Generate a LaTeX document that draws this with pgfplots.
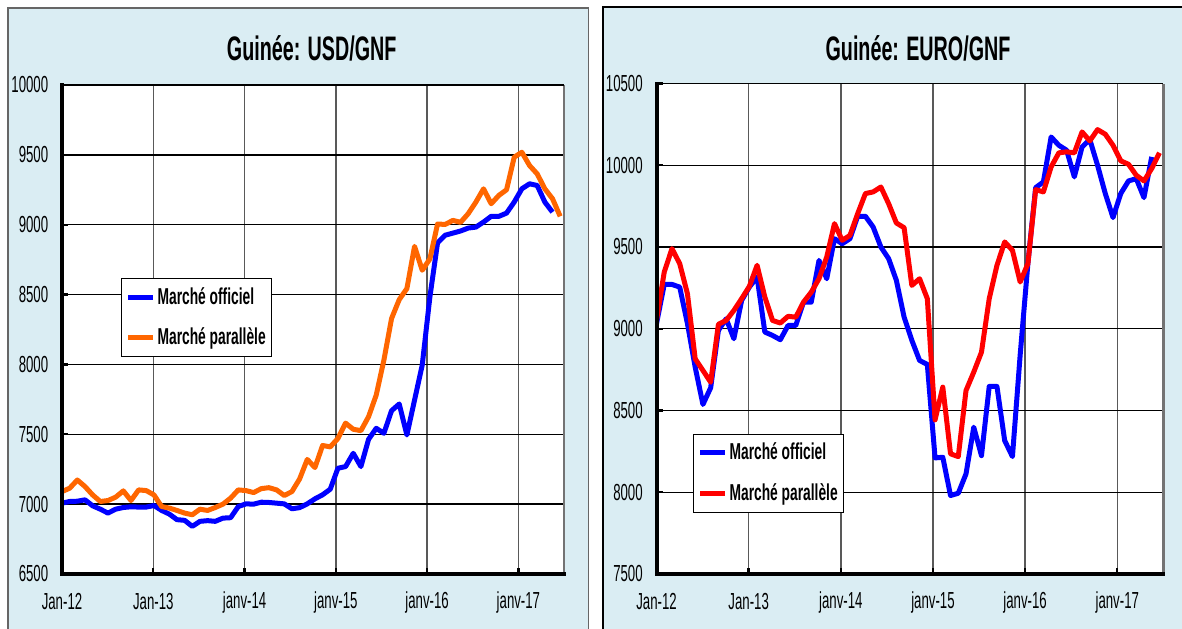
\documentclass[border=0pt]{standalone}
\usepackage{fontspec}
\setmainfont{Liberation Sans}[FakeStretch=0.57]
\newfontfamily\titlefont{Liberation Sans}[FakeStretch=0.58]
\newfontfamily\legfont{Liberation Sans}[FakeStretch=0.6]
\usepackage{pgfplots}
\usepackage{pgfplotstable}
\pgfplotsset{compat=1.18}
\definecolor{bgblue}{RGB}{218,237,243}
\definecolor{offblue}{RGB}{0,0,255}
\definecolor{parorange}{RGB}{255,102,0}
\definecolor{parred}{RGB}{255,0,0}

% USD/GNF, official market
\pgfplotstableread{
k v
0 7007
1 7019
2 7021
3 7031
4 6988
5 6964
6 6936
7 6964
8 6976
9 6981
10 6979
11 6979
12 6990
13 6955
14 6929
15 6889
16 6884
17 6841
18 6877
19 6882
20 6877
21 6900
22 6903
23 6983
24 7002
25 7000
26 7014
27 7012
28 7007
29 7002
30 6967
31 6975
32 7002
33 7038
34 7067
35 7107
36 7257
37 7269
38 7364
39 7269
40 7464
41 7543
42 7507
43 7669
44 7717
45 7495
46 7745
47 7995
48 8483
49 8870
50 8925
51 8940
52 8955
53 8976
54 8983
55 9019
56 9060
57 9060
58 9083
59 9162
60 9257
61 9293
62 9281
63 9162
64 9090
}\usdoff
% USD/GNF, parallel market
\pgfplotstableread{
k v
0 7090
1 7114
2 7173
3 7126
4 7066
5 7019
6 7026
7 7050
8 7095
9 7026
10 7102
11 7097
12 7066
13 6983
14 6972
15 6955
16 6936
17 6924
18 6964
19 6955
20 6976
21 7000
22 7043
23 7102
24 7097
25 7083
26 7111
27 7118
28 7102
29 7062
30 7090
31 7180
32 7320
33 7262
34 7420
35 7410
36 7470
37 7580
38 7536
39 7526
40 7626
41 7781
42 8031
43 8329
44 8464
45 8543
46 8845
47 8674
48 8755
49 9005
50 9002
51 9031
52 9017
53 9079
54 9162
55 9257
56 9150
57 9210
58 9250
59 9483
60 9519
61 9424
62 9364
63 9257
64 9186
65 9060
}\usdpar
% EURO/GNF, official market
\pgfplotstableread{
k v
0 9031
1 9271
2 9271
3 9255
4 9031
5 8765
6 8537
7 8639
8 8990
9 9061
10 8939
11 9173
12 9255
13 9316
14 8980
15 8959
16 8933
17 9020
18 9020
19 9163
20 9163
21 9418
22 9306
23 9551
24 9520
25 9551
26 9688
27 9688
28 9622
29 9500
30 9429
31 9296
32 9071
33 8929
34 8806
35 8782
36 8210
37 8214
38 7980
39 7994
40 8112
41 8398
42 8224
43 8647
44 8647
45 8316
46 8218
47 8840
48 9400
49 9863
50 9898
51 10173
52 10122
53 10092
54 9929
55 10112
56 10157
57 10000
58 9827
59 9680
60 9827
61 9904
62 9918
63 9802
64 10051
}\euroff
% EURO/GNF, parallel market
\pgfplotstableread{
k v
0 9051
1 9347
2 9490
3 9398
4 9214
5 8816
6 8745
7 8673
8 9027
9 9051
10 9112
11 9184
12 9259
13 9388
14 9194
15 9051
16 9035
17 9076
18 9071
19 9163
20 9224
21 9306
22 9439
23 9643
24 9541
25 9571
26 9704
27 9827
28 9837
29 9867
30 9765
31 9647
32 9618
33 9265
34 9306
35 9184
36 8443
37 8643
38 8235
39 8218
40 8622
41 8735
42 8857
43 9184
44 9388
45 9531
46 9480
47 9286
48 9398
49 9851
50 9837
51 9990
52 10076
53 10082
54 10076
55 10204
56 10149
57 10218
58 10190
59 10122
60 10027
61 10006
62 9939
63 9904
64 9980
65 10076
}\eurpar

\pgfplotsset{
  panel/.style={
    scale only axis, anchor=south west,
    clip mode=individual,
    axis background/.style={fill=white},
    xmin=0, xmax=65.5,
    xtick={0,11.91,23.82,35.73,47.64,59.55},
    xticklabels={Jan-12,Jan-13,janv-14,janv-15,janv-16,janv-17},
    scaled y ticks=false,
    xmajorgrids, ymajorgrids,
    major x grid style={black!65, line width=0.7pt},
    major y grid style={black, line width=0.7pt},
    axis line style={draw=none},
    xtick pos=bottom, ytick pos=left,
    tick style={black, line width=1.2pt},
    major tick length=3pt, tick align=inside,
    ticklabel style={font=\fontsize{11.6}{13}\selectfont},
    yticklabel style={anchor=east, inner sep=0pt, xshift=-6.7pt},
    xticklabel style={anchor=center, inner sep=0pt, yshift=-14pt},
    /pgf/number format/1000 sep={},
    /pgf/number format/assume math mode=true,
    every axis plot/.append style={line width=2.5pt, line join=round, no markers},
    legend cell align=left,
    legend image code/.code={\draw[##1] (0pt,0pt) -- (12.5pt,0pt);},
    legend style={draw=black, line width=0.6pt, fill=white,
      font=\legfont\bfseries\fontsize{11.5}{13}\selectfont,
      inner xsep=2pt, inner ysep=3.2pt, row sep=8.5pt,
      nodes={inner sep=1pt}},
  },
}

\begin{document}
\begin{tikzpicture}[x=1pt,y=1pt]
\useasboundingbox (0pt,0pt) rectangle (591pt,314pt);
% panel backgrounds
\fill[bgblue] (4pt,-5pt) rectangle (294.15pt,310pt);
\draw[black!60, line width=0.8pt] (4pt,-5pt) -- (4pt,310pt) -- (294.15pt,310pt) -- (294.15pt,-5pt);
\fill[bgblue] (301.35pt,-5pt) rectangle (600pt,310.35pt);
\draw[black, line width=0.8pt] (301.35pt,-5pt) -- (301.35pt,310.35pt) -- (600pt,310.35pt);

\node[anchor=base, font=\titlefont\bfseries\fontsize{17}{20}\selectfont] at (155.85pt,283.65pt) {Guinée: USD/GNF};
\node[anchor=base, font=\titlefont\bfseries\fontsize{17}{20}\selectfont] at (459pt,283.65pt) {Guinée: EURO/GNF};

\begin{axis}[panel, at={(31pt,27pt)}, width=251pt, height=244.5pt,
  ymin=6500, ymax=10000, ytick={6500,7000,...,10000},
  legend style={at={(0.1175,0.605)}, anchor=north west}]
\addplot[offblue] table[x=k,y=v] {\usdoff};
\addlegendentry{Marché officiel}
\addplot[parorange] table[x=k,y=v] {\usdpar};
\addlegendentry{Marché parallèle}
\draw[black!55, line width=1.3pt] (rel axis cs:1,0) -- (rel axis cs:1,1);
\draw[black, line width=0.6pt] (rel axis cs:0,1) -- (rel axis cs:1,1);
\draw[black, line width=2pt, line cap=rect] (rel axis cs:0,1) -- (rel axis cs:0,0) -- (rel axis cs:1,0);
\end{axis}

\begin{axis}[panel, at={(328.25pt,27pt)}, width=253.4pt, height=245.25pt,
  ymin=7500, ymax=10500, ytick={7500,8000,...,10500},
  legend style={at={(0.072,0.2854)}, anchor=north west}]
\addplot[offblue] table[x=k,y=v] {\euroff};
\addlegendentry{Marché officiel}
\addplot[parred] table[x=k,y=v] {\eurpar};
\addlegendentry{Marché parallèle}
\draw[black!55, line width=1.3pt] (rel axis cs:1,0) -- (rel axis cs:1,1);
\draw[black, line width=0.6pt] (rel axis cs:0,1) -- (rel axis cs:1,1);
\draw[black, line width=2pt, line cap=rect] (rel axis cs:0,1) -- (rel axis cs:0,0) -- (rel axis cs:1,0);
\end{axis}
\end{tikzpicture}
\end{document}
